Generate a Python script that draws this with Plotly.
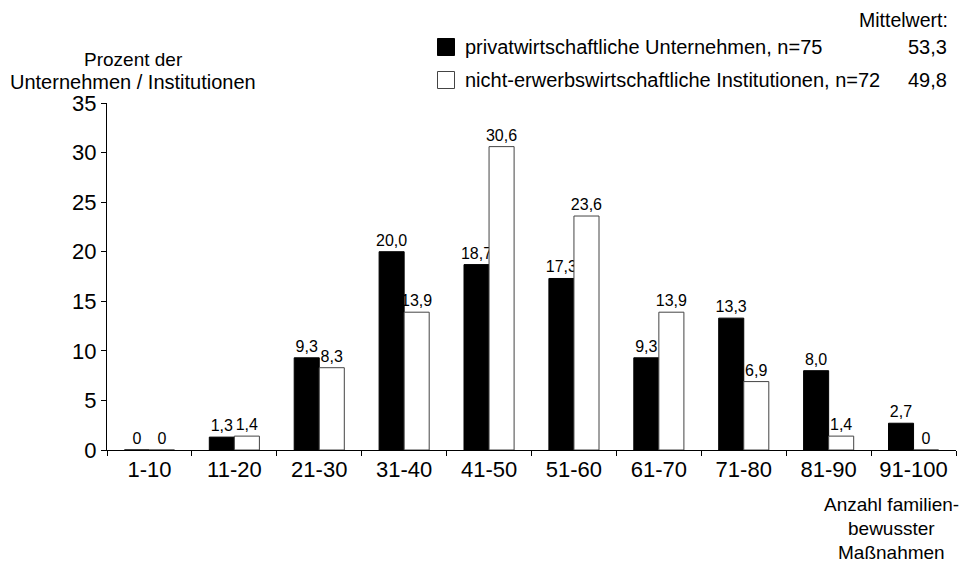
import plotly.graph_objects as go

categories = ["1-10", "11-20", "21-30", "31-40", "41-50", "51-60", "61-70", "71-80", "81-90", "91-100"]
private_vals = [0, 1.3, 9.3, 20.0, 18.7, 17.3, 9.3, 13.3, 8.0, 2.7]
nonprofit_vals = [0, 1.4, 8.3, 13.9, 30.6, 23.6, 13.9, 6.9, 1.4, 0]
series_names = ["privatwirtschaftliche Unternehmen, n=75", "nicht-erwerbswirtschaftliche Institutionen, n=72"]
mean_values = ["53,3", "49,8"]
mean_header = "Mittelwert:"
y_ticks = [0, 5, 10, 15, 20, 25, 30, 35]
y_title_lines = ["Prozent der", "Unternehmen / Institutionen"]
x_title_lines = ["Anzahl familien-", "bewusster", "Maßnahmen"]

FONT = "Liberation Sans, Arial, sans-serif"
W, H = 967, 563
L, R, T, B = 107, 11, 103, 113
pw, ph = W - L - R, H - T - B


def px(x):
    return (x - L) / pw


def py(y):
    return (H - B - y) / ph


def fmt(v):
    return "0" if v == 0 else f"{v:.1f}".replace(".", ",")


fig = go.Figure()
fig.add_trace(go.Bar(
    x=categories, y=private_vals, name=series_names[0],
    marker=dict(color="black", line=dict(color="black", width=1)),
    text=[fmt(v) for v in private_vals], textposition="outside", constraintext="none",
    textfont=dict(size=16, color="black", family=FONT), cliponaxis=False,
))
fig.add_trace(go.Bar(
    x=categories, y=nonprofit_vals, name=series_names[1],
    marker=dict(color="white", line=dict(color="#444444", width=1)),
    text=[fmt(v) for v in nonprofit_vals], textposition="outside", constraintext="none",
    textfont=dict(size=16, color="black", family=FONT), cliponaxis=False,
))

fig.update_layout(
    width=W, height=H,
    margin=dict(l=L, r=R, t=T, b=B, pad=0),
    paper_bgcolor="white", plot_bgcolor="white",
    barmode="group", bargap=0.41, bargroupgap=0,
    showlegend=False,
    font=dict(family=FONT, color="black"),
)
fig.update_xaxes(
    type="category", showline=True, linecolor="black", linewidth=1,
    ticks="outside", ticklen=5, tickcolor="black", tickson="boundaries",
    tickfont=dict(size=22, family=FONT, color="black"), showgrid=False, zeroline=False,
)
fig.update_yaxes(
    range=[0, 35], tickvals=y_ticks, showline=True, linecolor="black", linewidth=1,
    ticks="outside", ticklen=5, tickcolor="black",
    tickfont=dict(size=22, family=FONT, color="black"), showgrid=False, zeroline=False,
)

ann = []


def txt(x, y, s, anchor="center", size=19):
    ann.append(dict(xref="paper", yref="paper", x=px(x), y=py(y), text=s,
                    showarrow=False, xanchor=anchor, yanchor="middle",
                    font=dict(size=size, family=FONT, color="black")))


# y-axis title
for i, line in enumerate(y_title_lines):
    txt(133, 59 + 23 * i, line, size=20 if i == 1 else 19)
# x-axis title
for i, line in enumerate(x_title_lines):
    txt(891, 505 + 23.5 * i, line)
# legend
txt(950, 20, mean_header, anchor="right", size=19.5)
shapes = []
for i, (name, mv) in enumerate(zip(series_names, mean_values)):
    yc = 47 + i * 33
    shapes.append(dict(type="rect", xref="paper", yref="paper",
                       x0=px(437.5), x1=px(454.5), y0=py(yc - 8.5), y1=py(yc + 8.5),
                       fillcolor="black" if i == 0 else "white",
                       line=dict(color="black" if i == 0 else "#444444", width=1)))
    txt(463, yc, name, anchor="left", size=20)
    txt(949, yc, mv, anchor="right", size=20)

fig.update_layout(annotations=ann, shapes=shapes)
fig.write_html("out.html")
